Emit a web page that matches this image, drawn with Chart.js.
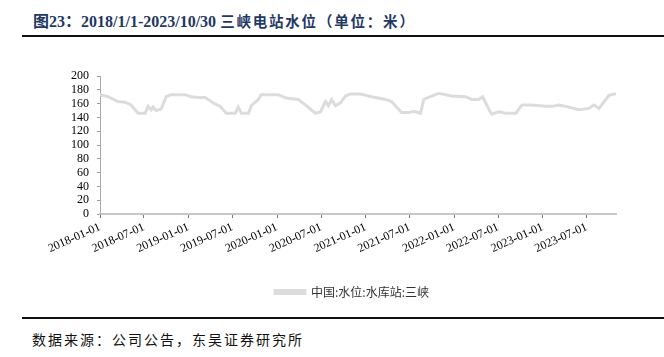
<!DOCTYPE html>
<html>
<head>
<meta charset="utf-8">
<script src="https://cdn.jsdelivr.net/npm/chart.js@4.4.0/dist/chart.umd.min.js"></script>
<style>
  body { margin: 0; background: #fff; }
  #page { position: relative; width: 664px; height: 357px; overflow: hidden; }
  #title { position: absolute; left: 33px; top: 8px; font: bold 16px "Liberation Serif", "Noto Sans CJK SC", serif; color: #1f3864; white-space: nowrap; }
  #title .cn { font-family: "Noto Sans CJK SC", sans-serif; font-size: 14.5px; letter-spacing: 1.8px; }
  .rule { position: absolute; left: 22px; width: 642px; height: 2px; background: #111; }
  #wrap { position: absolute; left: 0; top: 40px; width: 664px; height: 270px; }
  #foot { position: absolute; left: 32px; top: 329px; font: 14px "Noto Sans CJK SC", sans-serif; letter-spacing: 2px; color: #111; white-space: nowrap; }
</style>
</head>
<body>
<div id="page">
  <div id="title">图23：2018/1/1-2023/10/30 <span class="cn">三峡电站水位（单位：米）</span></div>
  <div class="rule" style="top:35px"></div>
  <div id="wrap"><canvas id="grafico" width="664" height="270"></canvas></div>
  <div class="rule" style="top:317px"></div>
  <div id="foot">数据来源：公司公告，东吴证券研究所</div>
</div>
<script>
// datos
var fechas = ['2018-01-01','2018-02-03','2018-03-16','2018-04-14','2018-05-09','2018-06-07','2018-07-06','2018-07-18','2018-07-31','2018-08-08','2018-08-20','2018-09-10','2018-10-01','2018-10-21','2018-12-18',
  '2019-01-12','2019-02-10','2019-03-11','2019-04-13','2019-05-12','2019-06-06','2019-07-13','2019-07-25','2019-08-07','2019-09-05','2019-09-17','2019-10-16','2019-10-28',
  '2020-01-06','2020-02-09','2020-03-29','2020-05-01','2020-06-07','2020-06-28','2020-07-19','2020-07-31','2020-08-13','2020-08-29','2020-09-19','2020-10-09','2020-10-30','2020-12-10',
  '2021-01-25','2021-03-24','2021-04-17','2021-05-29','2021-06-27','2021-07-17','2021-08-15','2021-08-28','2021-09-17','2021-10-29','2021-12-21',
  '2022-02-17','2022-03-14','2022-04-12','2022-04-28','2022-05-31','2022-06-05','2022-07-04','2022-08-01','2022-09-12','2022-10-07','2022-11-17',
  '2023-01-14','2023-02-08','2023-03-08','2023-04-06','2023-05-30','2023-07-10','2023-07-31','2023-08-21','2023-10-01','2023-10-22','2023-10-30'];
var nivel = [173,170,163,162,158,146,146,156,151,155,150,152,170,173,173,
  170,169,169,161,156,146,146,155,146,146,157,166,173,
  173,168,166,157,146,148,163,157,166,157,161,171,174,174,
  170,166,163,147,147,149,146,166,169,175,171,
  170,166,166,170,147,145,148,146,146,158,158,
  156,156,158,156,151,153,158,153,172,174,174];
var etiquetas = ['2018-01-01','2018-07-01','2019-01-01','2019-07-01','2020-01-01','2020-07-01','2021-01-01','2021-07-01','2022-01-01','2022-07-01','2023-01-01','2023-07-01'];
var yTicks = [0,20,40,60,80,100,120,140,160,180,200];

var DIA = 86400000;
var t0 = Date.parse('2018-01-01');
var aDia = function(f){ return Math.round((Date.parse(f) - t0) / DIA); };
var puntos = fechas.map(function(f, i){ return { x: aDia(f), y: nivel[i] }; });
var posTicks = etiquetas.map(aDia);

var ctx = document.getElementById('grafico').getContext('2d');
var grafNivel = new Chart(ctx, {
  type: 'line',
  data: {
    datasets: [{
      label: '中国:水位:水库站:三峡',
      data: puntos,
      borderColor: '#dcdcdc',
      backgroundColor: '#dcdcdc',
      borderWidth: 3,
      pointRadius: 0,
      tension: 0
    }]
  },
  options: {
    responsive: false,
    animation: false,
    devicePixelRatio: 1,
    layout: { padding: { left: 60, right: 20, top: 36, bottom: 2 } },
    plugins: {
      legend: {
        position: 'bottom',
        labels: {
          boxWidth: 30, boxHeight: 3, padding: 10,
          color: '#333',
          font: { family: '"Noto Sans CJK SC", sans-serif', size: 12 }
        }
      },
      tooltip: { enabled: false }
    },
    scales: {
      x: {
        type: 'linear',
        min: 0,
        max: aDia('2023-10-30'),
        afterBuildTicks: function(s){ s.ticks = posTicks.map(function(v){ return { value: v }; }); },
        afterFit: function(s){ s.height = 62; },
        grid: { display: true, drawOnChartArea: false, drawTicks: true, tickLength: 4, tickColor: '#777' },
        border: { color: '#c8c8c8', width: 2 },
        ticks: {
          autoSkip: false,
          minRotation: 24, maxRotation: 24,
          padding: 2,
          color: '#000',
          font: { family: '"Liberation Serif", serif', size: 12 },
          callback: function(v, i){ return etiquetas[i]; }
        }
      },
      y: {
        min: 0, max: 200,
        afterBuildTicks: function(s){ s.ticks = yTicks.map(function(v){ return { value: v }; }); },
        afterFit: function(s){ s.width = 40; },
        grid: { display: true, drawOnChartArea: false, drawTicks: true, tickLength: 3, tickColor: '#999' },
        border: { color: '#aaa', width: 1 },
        ticks: {
          autoSkip: false,
          padding: 8,
          color: '#000',
          font: { family: '"Liberation Serif", serif', size: 12 }
        }
      },
      // eje vacio a la derecha, solo para dejar margen
      margen: {
        position: 'right',
        display: true,
        afterFit: function(s){ s.width = 28; },
        grid: { display: false },
        border: { display: false },
        ticks: { display: false }
      }
    }
  }
});
</script>
</body>
</html>
